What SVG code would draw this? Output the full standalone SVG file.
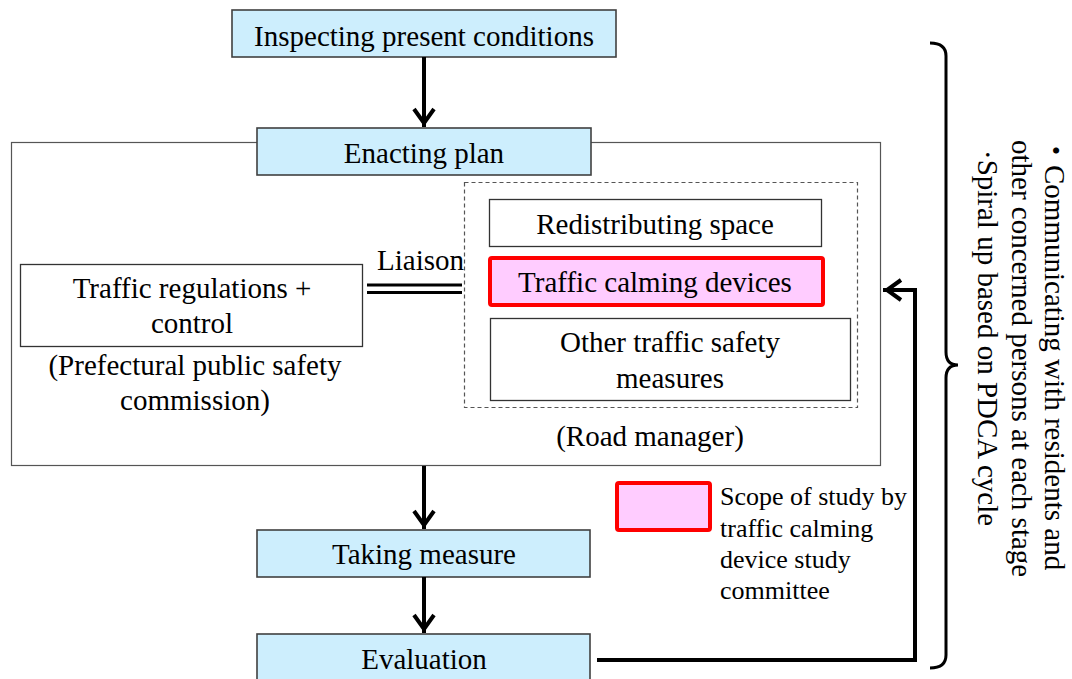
<svg xmlns="http://www.w3.org/2000/svg" width="1072" height="679" viewBox="0 0 1072 679">
  <style>
    text { font-family: "Liberation Serif", "Noto Sans CJK JP", serif; font-size: 29px; fill: #000; }
    .c { text-anchor: middle; }
    .legend { font-size: 26px; }
    .step { fill: #cdeefd; stroke: #404040; stroke-width: 1.6; }
    .plain { fill: #fff; stroke: #333; stroke-width: 1.3; }
    .scope { fill: #ffccff; stroke: #ff0000; stroke-width: 4; }
    .frame { fill: #fff; stroke: #555; stroke-width: 1.2; }
    .dashed { fill: none; stroke: #555; stroke-width: 1.2; stroke-dasharray: 4 3; }
    .flow { fill: none; stroke: #000; stroke-width: 4; }
  </style>
  <defs>
    <marker id="chev" markerUnits="userSpaceOnUse" orient="auto" refX="0" refY="0" markerWidth="30" markerHeight="30" viewBox="-24 -15 30 30" overflow="visible">
      <path d="M-18,-10 L-4,0 L-18,10" fill="none" stroke="#000" stroke-width="4"/>
    </marker>
  </defs>

  <rect width="1072" height="679" fill="#fff"/>

  <!-- planning frame -->
  <g id="plan-frame">
    <rect class="frame" x="11.5" y="142.5" width="869" height="323"/>
  </g>

  <g id="inspect">
    <rect class="step" x="232" y="10" width="384" height="47"/>
    <text class="c" x="424" y="46">Inspecting present conditions</text>
  </g>

  <g id="enact">
    <rect class="step" x="257" y="128" width="334" height="47"/>
    <text class="c" x="424" y="163">Enacting plan</text>
  </g>

  <g id="regulations">
    <rect class="plain" x="20.5" y="264.5" width="342" height="82"/>
    <text class="c" x="192" y="298">Traffic regulations +</text>
    <text class="c" x="192" y="333">control</text>
    <text class="c" x="195" y="375">(Prefectural public safety</text>
    <text class="c" x="195" y="410">commission)</text>
  </g>

  <g id="road-manager">
    <rect class="dashed" x="464.5" y="182.5" width="393" height="225"/>
    <text class="c" x="650" y="446">(Road manager)</text>
  </g>

  <g id="redistributing">
    <rect class="plain" x="489.5" y="199.5" width="332" height="47"/>
    <text class="c" x="655" y="234">Redistributing space</text>
  </g>

  <g id="calming">
    <rect class="scope" x="490" y="258" width="333" height="47" rx="2"/>
    <text class="c" x="655" y="292">Traffic calming devices</text>
  </g>

  <g id="other-measures">
    <rect class="plain" x="490.5" y="318.5" width="360" height="82"/>
    <text class="c" x="670" y="352">Other traffic safety</text>
    <text class="c" x="670" y="388">measures</text>
  </g>

  <g id="taking">
    <rect class="step" x="257" y="530" width="333" height="47"/>
    <text class="c" x="424" y="564">Taking measure</text>
  </g>

  <g id="evaluation">
    <rect class="step" x="257" y="634" width="333" height="60"/>
    <text class="c" x="424" y="669">Evaluation</text>
  </g>

  <g id="legend">
    <rect class="scope" x="617" y="483" width="93" height="47" rx="2"/>
    <text class="legend" x="720" y="505">Scope of study by</text>
    <text class="legend" x="720" y="537">traffic calming</text>
    <text class="legend" x="720" y="568">device study</text>
    <text class="legend" x="720" y="599">committee</text>
  </g>

  <g id="notes">
    <path d="M930,43 Q946,43 946,56 L946,352 Q946,365 958,365 Q946,365 946,378 L946,655 Q946,668 930,668" fill="none" stroke="#000" stroke-width="3"/>
    <text transform="translate(1045,136) rotate(90)">・Communicating with residents and</text>
    <text transform="translate(1012,140) rotate(90)">other concerned persons at each stage</text>
    <text transform="translate(978,150) rotate(90)">·Spiral up based on PDCA cycle</text>
  </g>

  <!-- connectors -->
  <g id="connectors">
    <path class="flow" d="M424,57 V127" marker-end="url(#chev)"/>
    <path class="flow" d="M424,466 V529" marker-end="url(#chev)"/>
    <path class="flow" d="M424,577 V633" marker-end="url(#chev)"/>
    <path class="flow" d="M597,660 H915 V290 H883" marker-end="url(#chev)"/>
    <text x="377" y="270">Liaison</text>
    <line x1="367" y1="285" x2="462" y2="285" stroke="#000" stroke-width="3"/>
    <line x1="367" y1="292.5" x2="462" y2="292.5" stroke="#000" stroke-width="3"/>
  </g>
</svg>
